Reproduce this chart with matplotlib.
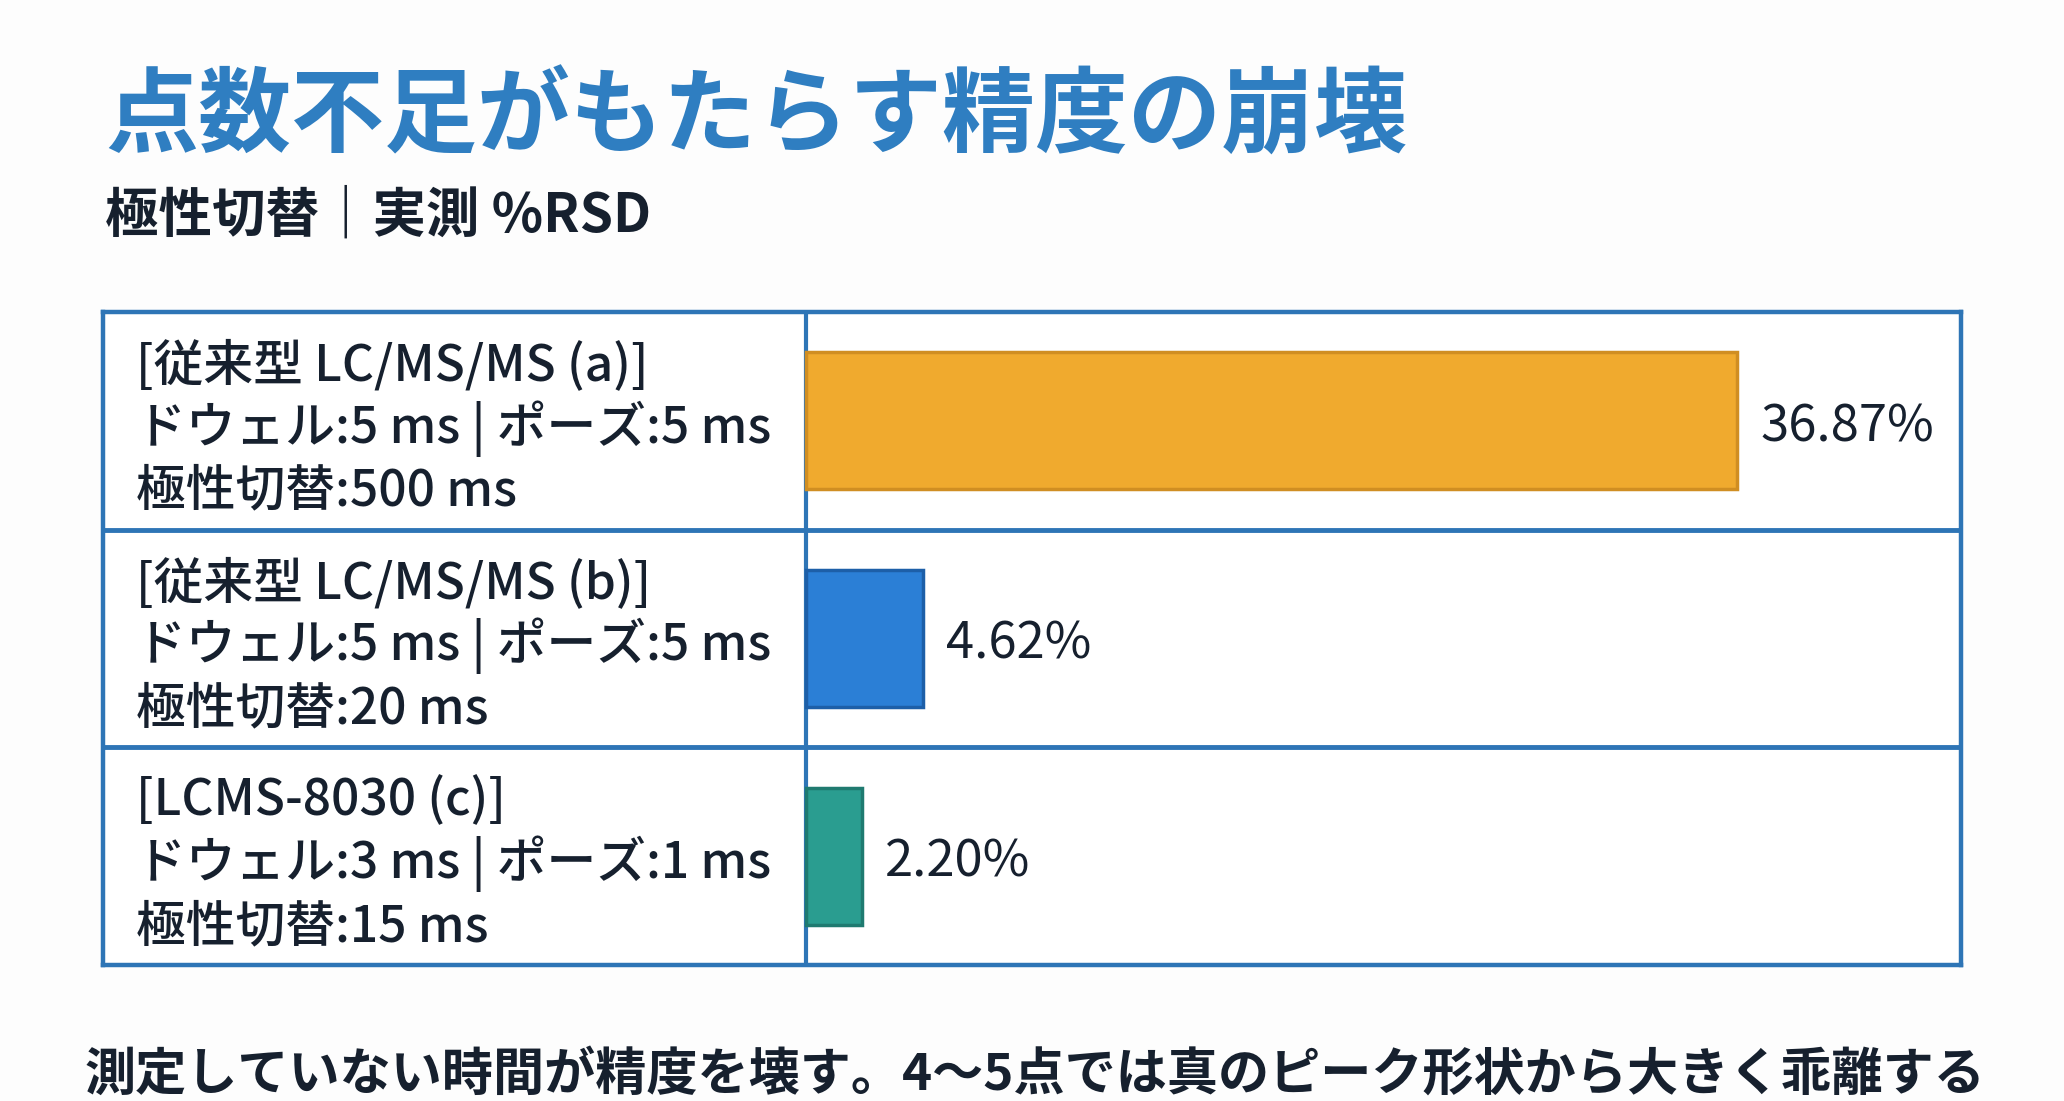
import matplotlib
matplotlib.use("Agg")
import matplotlib.pyplot as plt
from matplotlib.transforms import blended_transform_factory

plt.rcParams['font.family'] = ['Noto Sans CJK JP', 'DejaVu Sans']

# ---- data ----
title = "点数不足がもたらす精度の崩壊"
subtitle = "極性切替｜実測 %RSD"
footer = "測定していない時間が精度を壊す。4〜5点では真のピーク形状から大きく乖離する"
row_names = ["[従来型 LC/MS/MS (a)]", "[従来型 LC/MS/MS (b)]", "[LCMS-8030 (c)]"]
row_dwell = ["ドウェル:5 ms | ポーズ:5 ms", "ドウェル:5 ms | ポーズ:5 ms", "ドウェル:3 ms | ポーズ:1 ms"]
row_switch = ["極性切替:500 ms", "極性切替:20 ms", "極性切替:15 ms"]
rsd_values = [36.87, 4.62, 2.20]
value_labels = ["36.87%", "4.62%", "2.20%"]
bar_colors = ["#F0AA2E", "#2B7FD6", "#2A9D90"]
bar_edges = ["#D08E22", "#1D5FA8", "#1F7A70"]

W, H = 2064, 1101
fig = plt.figure(figsize=(W / 100, H / 100), dpi=100)
fig.patch.set_facecolor("#FDFDFD")

def fx(px):
    return px / W

def fy(py):
    return 1 - py / H

border = "#2E75B6"
dark = "#16202E"

# table axes
left, right, top, bottom = 103, 1961, 312, 965
ax = fig.add_axes([fx(left), fy(bottom), fx(right - left), (bottom - top) / H])
ax.set_facecolor("white")
ax.set_xlim(-27.84, 45.74)
ax.set_ylim(2.5, -0.5)
for s in ax.spines.values():
    s.set_color(border)
    s.set_linewidth(3.2)
ax.set_xticks([])
ax.set_yticks([])

ax.axvline(0, color=border, lw=3)
for yb in [0.5, 1.5]:
    ax.axhline(yb, color=border, lw=3.5)

ypos = list(range(len(rsd_values)))
ax.barh(ypos, rsd_values, height=0.63, left=0, color=bar_colors,
        edgecolor=bar_edges, linewidth=2.5, zorder=3)

for y, v, lab in zip(ypos, rsd_values, value_labels):
    ax.annotate(lab, xy=(v, y), xytext=(17, -4.5), textcoords="offset points",
                va="center", ha="left", fontsize=36.5, color=dark)

trans = blended_transform_factory(ax.transAxes, ax.transData)
for y, n, d, s in zip(ypos, row_names, row_dwell, row_switch):
    for line, off in zip([n, d, s], [40, -5.5, -51]):
        ax.annotate(line, xy=(0.0178, y), xycoords=trans, xytext=(0, off),
                    textcoords="offset points", va="center", ha="left",
                    fontsize=35.8, color=dark, fontweight="medium")

fig.text(fx(80 * 1.3163), fy(118), title, fontsize=67, fontweight="bold",
         color="#2F7EC1", va="center", ha="left")
fig.text(fx(80 * 1.3163), fy(216), subtitle, fontsize=38.5, fontweight="bold",
         color=dark, va="center", ha="left")
fig.text(fx(64 * 1.3163), fy(1075), footer, fontsize=36.8, fontweight="bold",
         color=dark, va="center", ha="left")

fig.savefig("out.png", dpi=100, facecolor=fig.get_facecolor())
